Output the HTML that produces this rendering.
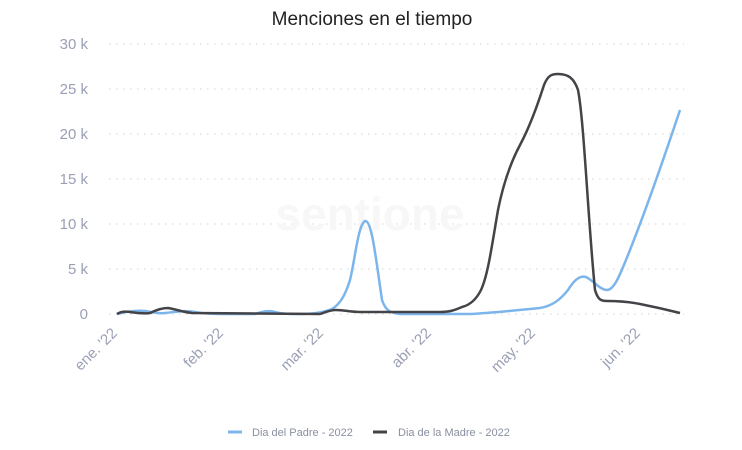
<!DOCTYPE html>
<html><head><meta charset="utf-8"><style>
html,body{margin:0;padding:0;background:#fff;width:742px;height:450px;overflow:hidden}
svg{display:block;font-family:"Liberation Sans",sans-serif}
</style></head><body>
<svg width="742" height="450" viewBox="0 0 742 450">
<text x="372" y="25" text-anchor="middle" font-size="19" fill="#222">Menciones en el tiempo</text>
<g stroke="#d0d3da" stroke-width="1" stroke-dasharray="1.5,5.5">
<line x1="109" y1="44" x2="684" y2="44"/>
<line x1="109" y1="89" x2="684" y2="89"/>
<line x1="109" y1="134" x2="684" y2="134"/>
<line x1="109" y1="179" x2="684" y2="179"/>
<line x1="109" y1="224" x2="684" y2="224"/>
<line x1="109" y1="269" x2="684" y2="269"/>
<line x1="109" y1="314" x2="684" y2="314"/>
</g>
<g font-size="15" fill="#9a9fb5" text-anchor="end">
<text x="88" y="49">30 k</text>
<text x="88" y="94">25 k</text>
<text x="88" y="139">20 k</text>
<text x="88" y="184">15 k</text>
<text x="88" y="229">10 k</text>
<text x="88" y="274">5 k</text>
<text x="88" y="319">0</text>
</g>
<text x="370" y="230" text-anchor="middle" font-size="46" fill="#f7f7f7" font-weight="bold">sentione</text>
<g font-size="15" fill="#9a9fb5" text-anchor="end">
<text transform="translate(118,334) rotate(-45)">ene. '22</text>
<text transform="translate(224,334) rotate(-45)">feb. '22</text>
<text transform="translate(324,334) rotate(-45)">mar. '22</text>
<text transform="translate(432,334) rotate(-45)">abr. '22</text>
<text transform="translate(536,334) rotate(-45)">may. '22</text>
<text transform="translate(641,334) rotate(-45)">jun. '22</text>
</g>
<path fill="none" stroke="#7cb5ec" stroke-width="2.5" stroke-linejoin="round" d="M117,314 C125,312 135,310 145,311 C152,312 158,314 165,313 C175,312 185,310 195,312 C205,314 215,314 225,314 L255,314 C262,312 268,310 275,312 C282,314 290,314 300,314 C312,314 322,313 332,309 C340,304 345,296 350,280 C355,260 358,225 365,221 C372,220 376,260 382,300 C386,312 392,313 400,314 L470,314 C490,313 510,311 540,308 C552,306 560,300 568,290 C574,280 580,275 586,277 C594,281 600,290 607,290 C614,290 620,275 628,255 C640,225 660,170 680,110"/>
<path fill="none" stroke="#434348" stroke-width="2.5" stroke-linejoin="round" d="M117,314 C120,312 124,311 130,312 C138,313 145,314 150,313 C156,310 162,308 168,308 C175,309 182,312 192,313 L320,314 C326,312 330,310 336,310 C344,310 350,312 360,312 L440,312 C450,312 455,310 462,307 C470,305 476,300 481,290 C488,275 492,245 498,210 C504,180 512,160 520,145 C528,130 536,110 544,85 C548,75 552,74 558,74 C568,74 574,78 578,90 C584,120 588,220 595,290 C598,300 601,301 607,301 C620,301 630,302 640,304 C655,307 668,310 680,313"/>
<line x1="228" y1="432" x2="242" y2="432" stroke="#7cb5ec" stroke-width="3"/>
<text x="252" y="436" font-size="11" fill="#8a8fa0">Dia del Padre - 2022</text>
<line x1="373" y1="432" x2="387" y2="432" stroke="#434348" stroke-width="3"/>
<text x="398" y="436" font-size="11" fill="#8a8fa0">Dia de la Madre - 2022</text>
</svg>
</body></html>
